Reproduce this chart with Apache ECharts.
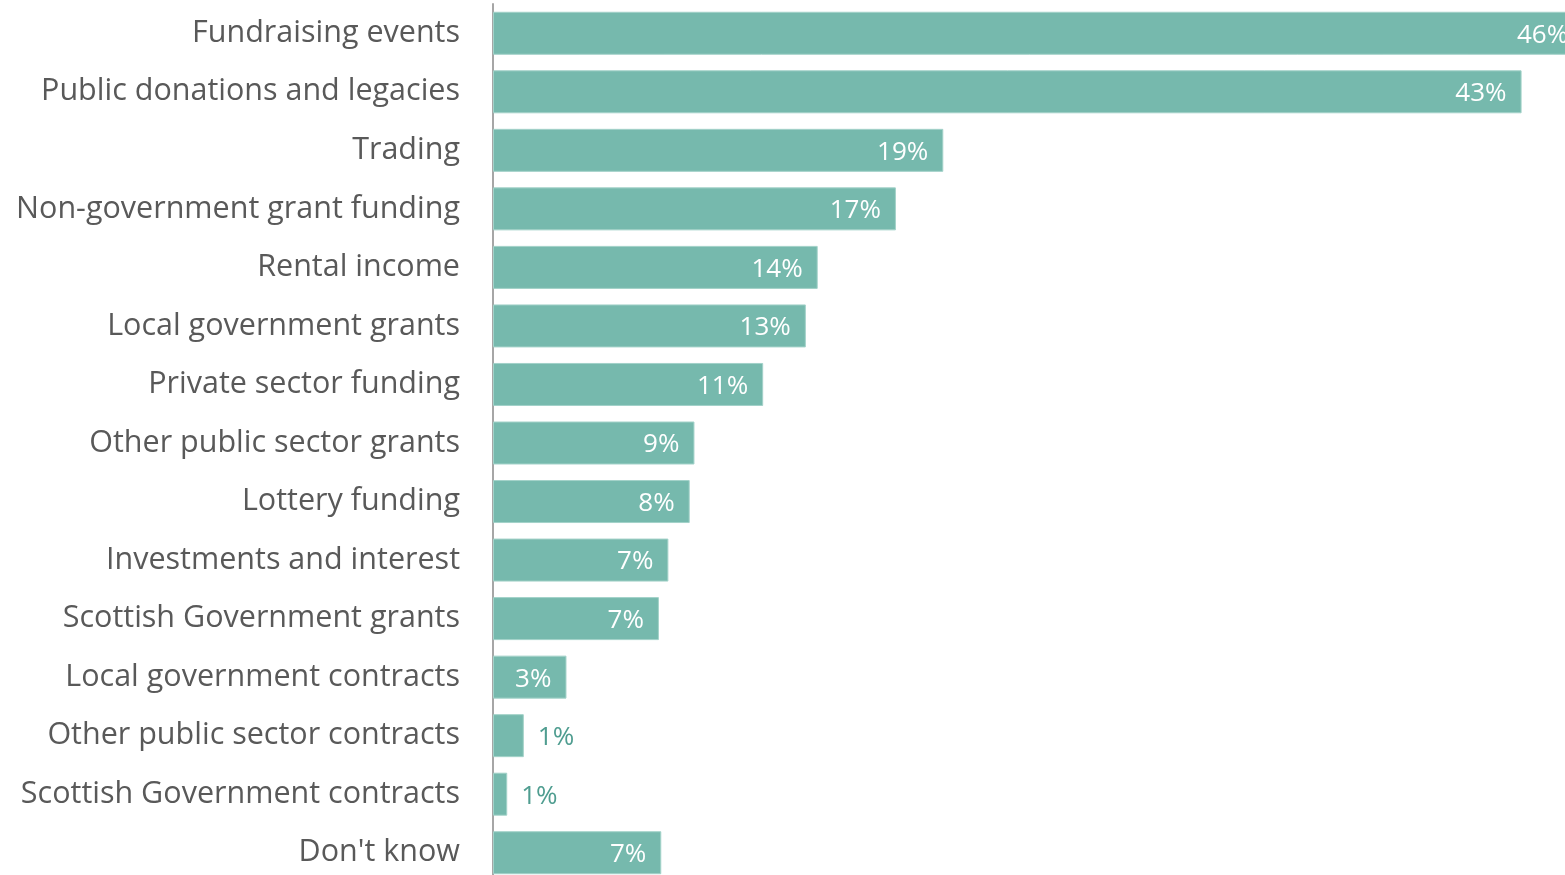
<!DOCTYPE html>
<html>
<head>
<meta charset="utf-8">
<script src="https://cdn.jsdelivr.net/npm/echarts@6/dist/echarts.min.js"></script>
<style>
  html, body { margin: 0; padding: 0; background: #ffffff; }
  #chart { width: 1565px; height: 875px; }
</style>
</head>
<body>
<div id="chart"></div>
<script>
// Income sources (share of organisations, %)
const categories = [
  'Fundraising events',
  'Public donations and legacies',
  'Trading',
  'Non-government grant funding',
  'Rental income',
  'Local government grants',
  'Private sector funding',
  'Other public sector grants',
  'Lottery funding',
  'Investments and interest',
  'Scottish Government grants',
  'Local government contracts',
  'Other public sector contracts',
  'Scottish Government contracts',
  "Don't know"
];
const shares = [46.0, 43.4, 19.0, 17.0, 13.7, 13.2, 11.4, 8.5, 8.3, 7.4, 7.0, 3.1, 1.3, 0.6, 7.1];

const FONT = '"Open Sans", "Noto Sans", sans-serif';
const BAR = '#76b9ad';
const LABEL_OUT = '#4f9d90';

const chart = echarts.init(document.getElementById('chart'), null, { renderer: 'canvas' });

// small shares get their label outside the bar, in the bar's colour
const barData = shares.map(v => v < 2
  ? { value: v, label: { position: 'right', color: LABEL_OUT, distance: 14 } }
  : v);

chart.setOption({
  animation: false,
  grid: { left: 493, top: 4, width: 1185, height: 878, outerBoundsMode: 'none' },
  xAxis: {
    type: 'value', min: 0, max: 50,
    show: false
  },
  yAxis: {
    type: 'category',
    data: categories,
    inverse: true,
    axisLine: { show: true, lineStyle: { color: '#a6a6a6', width: 2 } },
    axisTick: { show: false },
    axisLabel: {
      color: '#595959', fontFamily: FONT, fontSize: 30.5, margin: 33,
      padding: [8, 0, 0, 0]
    }
  },
  series: [{
    type: 'bar',
    data: barData,
    barWidth: 43,
    itemStyle: { color: BAR, borderColor: '#a3d2c9', borderWidth: 1 },
    label: {
      show: true,
      position: 'insideRight',
      distance: 15,
      offset: [0, 2],
      color: '#ffffff',
      fontFamily: FONT,
      fontSize: 26,
      formatter: p => Math.round(p.value) + '%'
    }
  }]
});
</script>
</body>
</html>
